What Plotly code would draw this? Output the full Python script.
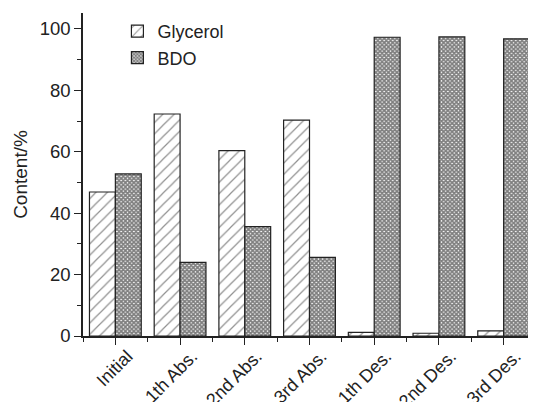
import plotly.graph_objects as go

categories = ["Initial", "1th Abs.", "2nd Abs.", "3rd Abs.", "1th Des.", "2nd Des.", "3rd Des."]
glycerol = [46.9, 72.3, 60.4, 70.3, 1.2, 0.9, 1.7]
bdo = [52.8, 24.0, 35.6, 25.6, 97.3, 97.4, 96.8]
y_ticks = [0, 20, 40, 60, 80, 100]

xpos = list(range(len(categories)))
FONT = "Liberation Sans, Arial, sans-serif"

fig = go.Figure()
fig.add_trace(go.Bar(
    x=xpos, y=glycerol, name="Glycerol",
    marker=dict(color="white", line=dict(color="#222", width=1.2),
                pattern=dict(shape="/", fgcolor="#222", bgcolor="white", size=8, solidity=0.15)),
))
fig.add_trace(go.Bar(
    x=xpos, y=bdo, name="BDO",
    marker=dict(color="white", line=dict(color="#222", width=1.2),
                pattern=dict(shape="x", fgcolor="black", bgcolor="white", size=3, solidity=0.8)),
))

# page body has an 8px default margin; compensate so plot area sits at x 83-536, y 13-336
fig.update_layout(
    width=528, height=394,
    margin=dict(l=75, r=0, t=5, b=66),
    paper_bgcolor="white", plot_bgcolor="white",
    barmode="group", bargap=0.2, bargroupgap=0,
    font=dict(family=FONT, size=18, color="#222"),
    showlegend=True,
    legend=dict(x=0.076, y=1.0, xanchor="left", yanchor="top",
                bgcolor="rgba(0,0,0,0)", font=dict(size=18), tracegroupgap=0),
    xaxis=dict(
        range=[-0.5, 6.5], tickmode="array", tickvals=xpos, ticktext=categories,
        tickangle=-45, showline=True, linecolor="#222", linewidth=1.5,
        ticks="outside", ticklen=7, tickcolor="#222", showgrid=False, zeroline=False,
        tickfont=dict(size=18), automargin=False, ticklabelstandoff=-6, ticklabelshift=12,
        minor=dict(tickmode="linear", tick0=0.5, dtick=1, ticks="outside", ticklen=4,
                   tickcolor="#222", showgrid=False),
    ),
    yaxis=dict(
        range=[0, 105.2], tickmode="array", tickvals=y_ticks,
        showline=True, linecolor="#222", linewidth=1.5, automargin=False,
        ticks="outside", ticklen=7, tickcolor="#222", showgrid=False, zeroline=False,
        tickfont=dict(size=18.5),
        minor=dict(tickmode="linear", tick0=10, dtick=20, ticks="outside", ticklen=4,
                   tickcolor="#222", showgrid=False),
        title=dict(text="Content/%", font=dict(size=19), standoff=7),
    ),
)

fig.write_html("out.html")
